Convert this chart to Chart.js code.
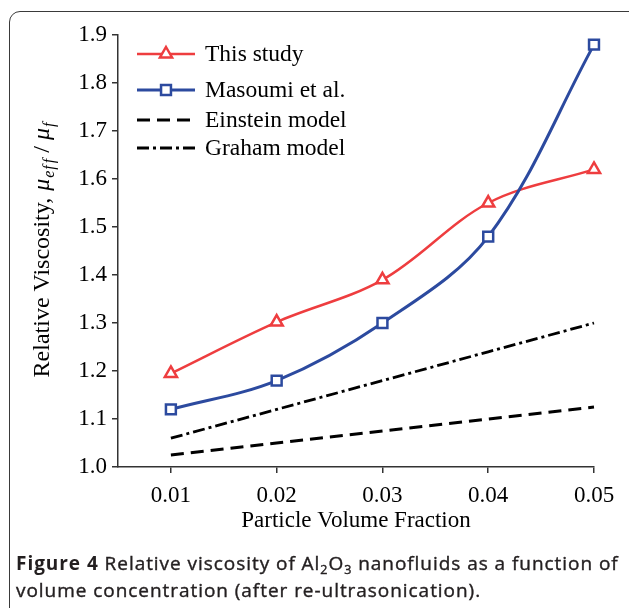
<!DOCTYPE html>
<html>
<head>
<meta charset="utf-8">
<script src="https://cdn.jsdelivr.net/npm/chart.js@4"></script>
<style>
html, body { margin: 0; padding: 0; background: #fff; }
#wrap { position: relative; width: 629px; height: 608px; overflow: hidden; }
#frame { position: absolute; left: 9px; top: 11px; width: 700px; height: 700px;
         border: 1.5px solid #3a3a3a; border-radius: 11px; }
#chart { position: absolute; left: 0; top: 0; }
#caption { position: absolute; left: 16px; top: 550px; font-family: "Open Sans", sans-serif;
           font-size: 19px; line-height: 27px; letter-spacing: 0.95px; color: #231f20;
           -webkit-text-stroke: 0.4px #231f20; white-space: nowrap; }
#caption b { -webkit-text-stroke: 0; }
#caption sub { font-size: 12.5px; vertical-align: -4px; line-height: 0; }
</style>
</head>
<body>
<div id="wrap">
  <div id="frame"></div>
  <canvas id="chart" width="629" height="608"></canvas>
  <div id="caption"><b>Figure 4</b> Relative viscosity of Al<sub>2</sub>O<sub>3</sub> nanofluids as a function of<br>volume concentration (after re-ultrasonication).</div>
</div>
<script>
// 数据
const volumeFractions = [0.01, 0.02, 0.03, 0.04, 0.05];
const thisStudy = [1.195, 1.302, 1.39, 1.55, 1.62];
const masoumi = [1.12, 1.18, 1.30, 1.48, 1.88];
const einstein = [1.025, 1.05, 1.075, 1.10, 1.125];
const graham = [1.06, 1.12, 1.18, 1.24, 1.30];
const yTickValues = [1.0, 1.1, 1.2, 1.3, 1.4, 1.5, 1.6, 1.7, 1.8, 1.9];
const xTickLabels = ['0.01', '0.02', '0.03', '0.04', '0.05'];

const serif = '"Liberation Serif", "Times New Roman", serif';
const axisColor = '#333';

function toPoints(values) {
    return values.map((v, i) => ({ x: volumeFractions[i], y: v }));
}

// 画标记
function drawMarker(ctx, style, r, x, y) {
    ctx.beginPath();
    if (style === 'triangle') {
        ctx.moveTo(x, y - r);
        ctx.lineTo(x + r * 0.866, y + r * 0.5);
        ctx.lineTo(x - r * 0.866, y + r * 0.5);
        ctx.closePath();
    } else if (style === 'rect') {
        const h = r * Math.SQRT1_2;
        ctx.rect(x - h, y - h, h * 2, h * 2);
    }
    ctx.fill();
    ctx.stroke();
}

// 图例（手绘在图内左上角）
const legendRows = [54, 90, 120, 148];
const customLegend = {
    id: 'customLegend',
    afterDraw(chart) {
        const ctx = chart.ctx;
        chart.data.datasets.forEach((ds, i) => {
            const y = legendRows[i];
            ctx.save();
            ctx.strokeStyle = ds.borderColor;
            ctx.lineWidth = ds.borderWidth;
            ctx.setLineDash(ds.borderDash || []);
            ctx.beginPath();
            ctx.moveTo(137, y);
            ctx.lineTo(195, y);
            ctx.stroke();
            ctx.setLineDash([]);
            if (ds.pointRadius > 0) {
                ctx.fillStyle = ds.pointBackgroundColor;
                ctx.strokeStyle = ds.pointBorderColor;
                ctx.lineWidth = ds.pointBorderWidth;
                drawMarker(ctx, ds.pointStyle, ds.pointRadius, 166, y);
            }
            ctx.fillStyle = '#000';
            ctx.font = '23.5px ' + serif;
            ctx.textBaseline = 'middle';
            ctx.textAlign = 'left';
            ctx.fillText(ds.label, 205, y + 1);
            ctx.restore();
        });
    }
};

// Y轴标题（带斜体下标）
const yTitle = {
    id: 'yTitle',
    afterDraw(chart) {
        const ctx = chart.ctx;
        const parts = [
            { t: 'Relative Viscosity,', f: '24px ' + serif, dy: 0, gap: 7 },
            { t: 'μ', f: 'italic 24px ' + serif, dy: 0, gap: 1 },
            { t: 'e', f: 'italic 16px ' + serif, dy: 5, gap: 1 },
            { t: 'f', f: 'italic 16px ' + serif, dy: 5, gap: 2 },
            { t: 'f', f: 'italic 16px ' + serif, dy: 5, gap: 6 },
            { t: '/', f: '24px ' + serif, dy: 0, gap: 6 },
            { t: 'μ', f: 'italic 24px ' + serif, dy: 0, gap: 1 },
            { t: 'f', f: 'italic 16px ' + serif, dy: 5, gap: 0 }
        ];
        ctx.save();
        let total = 0;
        parts.forEach(p => { ctx.font = p.f; p.w = ctx.measureText(p.t).width; total += p.w + p.gap; });
        ctx.translate(49, 250);
        ctx.rotate(-Math.PI / 2);
        ctx.fillStyle = '#000';
        ctx.textBaseline = 'alphabetic';
        ctx.textAlign = 'left';
        let x = -total / 2;
        parts.forEach(p => {
            ctx.font = p.f;
            ctx.fillText(p.t, x, p.dy);
            x += p.w + p.gap;
        });
        ctx.restore();
    }
};

const ctx = document.getElementById('chart').getContext('2d');
const chart = new Chart(ctx, {
    type: 'line',
    data: {
        datasets: [{
            label: 'This study',
            data: toPoints(thisStudy),
            borderColor: '#ee3d3f',
            borderWidth: 2.5,
            tension: 0.35,
            pointStyle: 'triangle',
            pointRadius: 7,
            pointBorderWidth: 2.5,
            pointBorderColor: '#ee3d3f',
            pointBackgroundColor: '#fff',
            clip: false,
            order: 1
        }, {
            label: 'Masoumi et al.',
            data: toPoints(masoumi),
            borderColor: '#2c4a9f',
            borderWidth: 3,
            tension: 0.35,
            pointStyle: 'rect',
            pointRadius: 7,
            pointBorderWidth: 2.5,
            pointBorderColor: '#2c4a9f',
            pointBackgroundColor: '#fff',
            clip: false,
            order: 0
        }, {
            label: 'Einstein model',
            data: toPoints(einstein),
            borderColor: '#000',
            borderWidth: 3,
            borderDash: [13, 7],
            tension: 0,
            pointRadius: 0,
            clip: false,
            order: 2
        }, {
            label: 'Graham model',
            data: toPoints(graham),
            borderColor: '#000',
            borderWidth: 2.8,
            borderDash: [12, 4, 3, 4],
            tension: 0,
            pointRadius: 0,
            clip: false,
            order: 3
        }]
    },
    options: {
        responsive: false,
        animation: false,
        devicePixelRatio: 1,
        layout: { padding: { left: 10, right: 35, top: 35, bottom: 69 } },
        plugins: {
            legend: { display: false },
            tooltip: { enabled: false }
        },
        scales: {
            x: {
                type: 'linear',
                min: 0.005,
                max: 0.05,
                afterBuildTicks: s => { s.ticks = volumeFractions.map(v => ({ value: v })); },
                afterFit: s => { s.height = 72; },
                ticks: {
                    callback: (v, i) => xTickLabels[i],
                    font: { family: serif, size: 23 },
                    color: '#000',
                    padding: 9,
                    maxRotation: 0
                },
                grid: { drawOnChartArea: false, tickLength: 6, color: axisColor, lineWidth: 1.5 },
                border: { color: axisColor, width: 1.5 },
                title: {
                    display: true,
                    text: 'Particle Volume Fraction',
                    font: { family: serif, size: 23 },
                    color: '#000',
                    padding: { top: 4 }
                }
            },
            y: {
                min: 1.0,
                max: 1.9,
                afterBuildTicks: s => { s.ticks = yTickValues.map(v => ({ value: v })); },
                afterFit: s => { s.width = 108; },
                ticks: {
                    callback: v => v.toFixed(1),
                    font: { family: serif, size: 23 },
                    color: '#000',
                    padding: 5
                },
                grid: { drawOnChartArea: false, tickLength: 6, color: axisColor, lineWidth: 1.5 },
                border: { color: axisColor, width: 1.5 }
            }
        }
    },
    plugins: [customLegend, yTitle]
});
</script>
</body>
</html>
